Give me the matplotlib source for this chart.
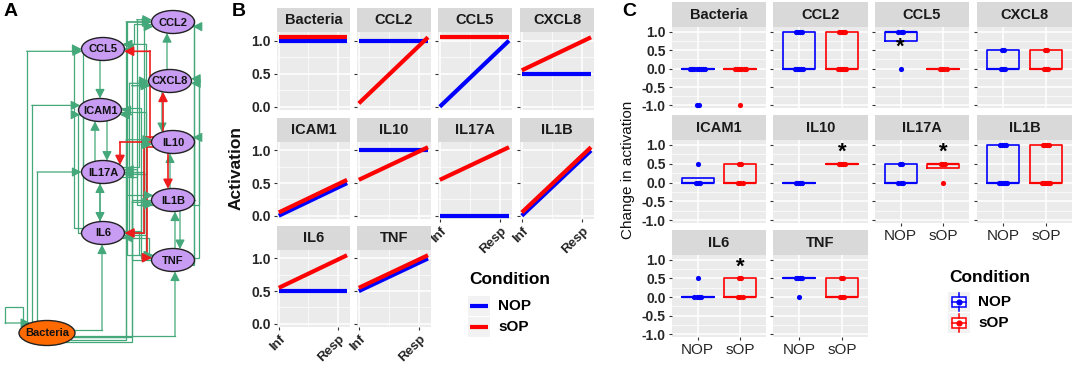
import numpy as np
import matplotlib
matplotlib.use("Agg")
import matplotlib.pyplot as plt
from matplotlib.patches import Ellipse, Rectangle

# ---------------- data ----------------
# panel A: network
nodes = ["CCL2", "CCL5", "CXCL8", "ICAM1", "IL10", "IL17A", "IL1B", "IL6", "TNF", "Bacteria"]
green_edges = [
    ("Bacteria", "CCL2"), ("Bacteria", "CCL5"), ("Bacteria", "CXCL8"), ("Bacteria", "ICAM1"),
    ("Bacteria", "IL10"), ("Bacteria", "IL17A"), ("Bacteria", "IL1B"), ("Bacteria", "IL6"),
    ("Bacteria", "TNF"),
    ("TNF", "CCL2"), ("TNF", "CCL5"), ("TNF", "CXCL8"), ("TNF", "ICAM1"), ("TNF", "IL10"),
    ("TNF", "IL1B"), ("TNF", "IL6"), ("TNF", "IL17A"),
    ("IL1B", "CCL2"), ("IL1B", "CCL5"), ("IL1B", "CXCL8"), ("IL1B", "ICAM1"), ("IL1B", "IL10"),
    ("IL1B", "IL6"), ("IL1B", "TNF"), ("IL1B", "IL17A"),
    ("IL6", "IL17A"), ("IL6", "IL10"), ("IL6", "CCL2"), ("IL6", "IL1B"), ("IL6", "TNF"),
    ("IL6", "CCL5"), ("IL6", "CXCL8"), ("IL6", "ICAM1"),
    ("IL17A", "IL6"), ("IL17A", "CCL2"), ("IL17A", "CXCL8"), ("IL17A", "ICAM1"),
    ("IL17A", "IL1B"), ("IL17A", "TNF"), ("IL17A", "CCL5"),
    ("CCL5", "CCL2"), ("CCL5", "ICAM1"), ("CCL5", "CXCL8"), ("CCL2", "CCL5"),
    ("CXCL8", "IL10"), ("CXCL8", "CCL2"), ("ICAM1", "IL10"), ("ICAM1", "IL17A"),
    ("ICAM1", "TNF"), ("ICAM1", "IL6"),
]
red_edges = [("IL10", "CXCL8"), ("IL10", "CCL5"), ("IL10", "IL17A"), ("IL10", "IL1B"),
             ("IL10", "TNF"), ("IL10", "IL6")]

# panel B: activation at Inf / Resp
facets = ["Bacteria", "CCL2", "CCL5", "CXCL8", "ICAM1", "IL10", "IL17A", "IL1B", "IL6", "TNF"]
time_labels = ["Inf", "Resp"]
time_pos = [0.0, 1.15]
nop_inf = [1.0, 1.0, 0.0, 0.5, 0.0, 1.0, 0.0, 0.0, 0.5, 0.5]
nop_resp = [1.0, 1.0, 1.0, 0.5, 0.5, 1.0, 0.0, 1.0, 0.5, 1.0]
sop_inf = [1.0, 0.0, 1.0, 0.5, 0.0, 0.5, 0.5, 0.0, 0.5, 0.5]
sop_resp = [1.0, 1.0, 1.0, 1.0, 0.5, 1.0, 1.0, 1.0, 1.0, 1.0]

# panel C: change in activation
conditions = ["NOP", "sOP"]
nop_change = [
    [0, 0, 0, 0, 0, 0, 0, 0, -1, -1],
    [0, 0, 0, 0, 0, 1, 1, 1, 1],
    [0, 1, 1, 1],
    [0, 0, 0, 0.5, 0.5],
    [0, 0, 0, 0.5],
    [0, 0, 0, 0],
    [0, 0, 0, 0.5, 0.5],
    [0, 0, 0, 0, 0, 1, 1, 1, 1],
    [0, 0, 0, 0, 0.5],
    [0, 0.5, 0.5, 0.5, 0.5],
]
sop_change = [
    [0, 0, 0, 0, 0, 0, -1],
    [0, 0, 0, 0, 0, 1, 1, 1, 1],
    [0, 0, 0, 0],
    [0, 0, 0, 0.5, 0.5],
    [0, 0, 0, 0.5, 0.5],
    [0.5, 0.5, 0.5, 0.5],
    [0, 0.5, 0.5, 0.5],
    [0, 0, 0, 0, 0, 1, 1, 1, 1],
    [0, 0, 0, 0.5, 0.5],
    [0, 0, 0, 0.5, 0.5],
]
star_facet = ["CCL5", "IL10", "IL17A", "IL6"]
star_cond = ["NOP", "sOP", "sOP", "sOP"]
star_y = [0.57, 0.8, 0.8, 0.8]

# ---------------- style ----------------
W, H = 1074, 367
BLUE, RED = "#0000ff", "#ff0000"
GREEN, RED_EDGE = "#45a87a", "#ee1c1c"
PANEL_BG, STRIP_BG = "#ebebeb", "#d9d9d9"
plt.rcParams["font.family"] = ["Liberation Sans", "DejaVu Sans"]

fig = plt.figure(figsize=(W / 100, H / 100), dpi=100)


def px_axes(x0, y0, x1, y1, **kw):
    return fig.add_axes([x0 / W, 1 - y1 / H, (x1 - x0) / W, (y1 - y0) / H], **kw)


def style_panel(ax):
    ax.set_facecolor(PANEL_BG)
    for s in ax.spines.values():
        s.set_visible(False)
    ax.grid(True, which="major", color="white", lw=1.1)
    ax.grid(True, which="minor", color="white", lw=0.5)
    ax.set_axisbelow(True)
    ax.tick_params(which="both", length=0, pad=2)
    ax.tick_params(which="major", length=2.5, color="#333333", width=0.8)


def strip(x0, y0, x1, y1, label):
    s = px_axes(x0, y0, x1, y1)
    s.set_facecolor(STRIP_BG)
    s.set_xticks([])
    s.set_yticks([])
    for sp in s.spines.values():
        sp.set_visible(False)
    s.text(0.5, 0.48, label, ha="center", va="center", fontsize=10.5,
           fontweight="bold", color="#1a1a1a", transform=s.transAxes)


# overlay for panel A, panel letters and legends (pixel coordinates)
ov = fig.add_axes([0, 0, 1, 1], zorder=5)
ov.set_xlim(0, W)
ov.set_ylim(H, 0)
ov.axis("off")

# ---------------- panel A ----------------
pos = {"CCL2": (173, 22), "CCL5": (103, 49), "CXCL8": (170, 81), "ICAM1": (100, 110),
       "IL10": (173, 142), "IL17A": (103, 172), "IL1B": (173, 200), "IL6": (103, 233),
       "TNF": (173, 260), "Bacteria": (47, 333)}
semi = {n: (21.5, 11.5) for n in nodes}
semi["Bacteria"] = (28, 12.5)
red_lanes = [163, 150, 120, 168, 147, 144]


def bx(n, dy, side):
    cx, cy = pos[n]
    a, b = semi[n]
    dy = np.clip(dy, -0.9 * b, 0.9 * b)
    return cx + side * a * np.sqrt(1 - (dy / b) ** 2), cy + dy


def by(n, dx, side):
    cx, cy = pos[n]
    a, b = semi[n]
    dx = np.clip(dx, -0.9 * a, 0.9 * a)
    return cx + dx, cy + side * b * np.sqrt(1 - (dx / a) ** 2)


def route(s, t, k, lane=None):
    sx, sy = pos[s]
    tx, ty = pos[t]
    dy1 = ((k % 5) - 2) * 2.3
    dy2 = (((k + 2) % 5) - 2) * 2.3
    if s == "Bacteria":
        if t in ("IL6", "TNF"):
            ex, ey = bx(s, -3 + 6 * (t == "TNF"), 1)
            ln = tx - 4 + (k % 3) * 3
            return [(ex, ey), (ln, ey), (ln, by(t, ln - tx, 1)[1])]
        if tx > 140:
            ex, ey = bx(s, 4 + (k % 3) * 2.5, 1)
            ln = 126 + (k % 4) * 3
            ex2, ey2 = bx(t, dy2, -1)
            return [(ex, ey), (ln, ey), (ln, ey2), (ex2, ey2)]
        ln = 24 + (k % 8) * 2.6
        ex, ey = by(s, ln - sx, -1)
        ex2, ey2 = bx(t, dy2, -1)
        return [(ex, ey), (ln, ey2), (ex2, ey2)]
    left_s, left_t = sx < 140, tx < 140
    adjacent = abs(sy - ty) < 70
    if lane is None:
        if left_s == left_t and adjacent:
            lane = sx - 8 + (k % 4) * 5
        elif left_s and left_t:
            lane = 74 + (k % 5) * 2.2
        elif not left_s and not left_t:
            lane = 191 + (k % 4) * 2.6 if k % 2 else 136 + (k % 5) * 3
        else:
            lane = 127 + (k % 10) * 2.4
    in_s = abs(lane - sx) < semi[s][0] * 0.8
    in_t = abs(lane - tx) < semi[t][0] * 0.8
    down = ty > sy
    if in_s:
        p0 = by(s, lane - sx, 1 if down else -1)
    else:
        p0 = bx(s, dy1, 1 if lane > sx else -1)
    if in_t:
        p1 = by(t, lane - tx, -1 if down else 1)
        return [p0, (lane, p0[1]), p1] if not in_s else [p0, p1]
    p1 = bx(t, dy2, 1 if lane > tx else -1)
    return [p0, (lane, p0[1]), (lane, p1[1]), p1]


def draw_edge(pts, color, lw):
    xs, ys = zip(*pts)
    ov.plot(xs[:-1], ys[:-1], color=color, lw=lw, solid_joinstyle="miter", zorder=2)
    ov.annotate("", xy=pts[-1], xytext=pts[-2],
                arrowprops=dict(arrowstyle="-|>,head_length=0.55,head_width=0.28",
                                color=color, lw=lw, shrinkA=0, shrinkB=0), zorder=3)


for k, (s, t) in enumerate(green_edges):
    draw_edge(route(s, t, k), GREEN, 0.9)
for k, (s, t) in enumerate(red_edges):
    draw_edge(route(s, t, k, lane=red_lanes[k]), RED_EDGE, 1.2)

# Bacteria self loop
bxl, byl = pos["Bacteria"]
loop = [(bxl - 24, byl - 8), (bxl - 24, byl - 26), (bxl - 42, byl - 26), (bxl - 42, byl - 10),
        bx("Bacteria", -10, -1)]
draw_edge(loop, GREEN, 0.9)

for n in nodes:
    a, b = semi[n]
    fc = "#ff6a00" if n == "Bacteria" else "#c79cf2"
    ov.add_patch(Ellipse(pos[n], 2 * a, 2 * b, facecolor=fc, edgecolor="#222222", lw=1.0, zorder=4))
    ov.text(pos[n][0], pos[n][1] + 0.5, n, ha="center", va="center", fontsize=8,
            fontweight="bold", color="#111111", zorder=5)

# ---------------- panel B ----------------
cols_B = [(277, 350), (357, 431), (438, 512), (520, 594)]
rows_B = [(8, 32, 110), (118, 142, 219), (226, 250, 327)]
sop_offset = 0.05
for i, name in enumerate(facets):
    r, c = divmod(i, 4)
    x0, x1 = cols_B[c]
    st, pt, pb = rows_B[r]
    strip(x0, st, x1, pt, name)
    ax = px_axes(x0, pt, x1, pb)
    style_panel(ax)
    ax.plot(time_pos, [nop_inf[i], nop_resp[i]], color=BLUE, lw=3, solid_capstyle="butt")
    ax.plot(time_pos, [sop_inf[i] + sop_offset, sop_resp[i] + sop_offset], color=RED, lw=3,
            solid_capstyle="butt")
    ax.set_xlim(-0.03, 1.2)
    ax.set_ylim(-0.05, 1.13)
    ax.set_yticks([0, 0.5, 1.0])
    ax.set_yticks([0.25, 0.75], minor=True)
    ax.set_xticks([0, 1])
    ax.set_xticks([0.5], minor=True)
    if c == 0:
        ax.set_yticklabels(["0.0", "0.5", "1.0"], fontsize=10, fontweight="bold", color="#262626")
    else:
        ax.set_yticklabels([])
    last_row = (r == 2) or (r == 1 and c >= 2)
    if last_row:
        ax.set_xticklabels(time_labels, rotation=45, ha="right", rotation_mode="anchor",
                           fontsize=9.5, fontweight="bold", color="#262626")
    else:
        ax.set_xticklabels([])
        ax.tick_params(axis="x", which="major", length=0)

ov.text(236, 168, "Activation", rotation=90, ha="center", va="center", fontsize=12.5,
        fontweight="bold", color="#111111")
ov.text(232, 12, "B", fontsize=14, fontweight="bold", ha="left", va="center")
ov.text(4, 12, "A", fontsize=14, fontweight="bold", ha="left", va="center")
ov.text(622, 12, "C", fontsize=14, fontweight="bold", ha="left", va="center")

# legend B
ov.text(469, 279, "Condition", fontsize=12.5, fontweight="bold", ha="left", va="center")
for j, (cond, col) in enumerate(zip(conditions, [BLUE, RED])):
    yy = 306 + j * 21
    ov.add_patch(Rectangle((468, yy - 10), 22, 20, facecolor="#f2f2f2", edgecolor="none"))
    ov.plot([470, 488], [yy, yy], color=col, lw=3, solid_capstyle="butt")
    ov.text(498, yy, cond, fontsize=11, fontweight="bold", ha="left", va="center")

# ---------------- panel C ----------------
cols_C = [(672, 766), (773, 868), (875, 969), (977, 1072)]
rows_C = [(2, 27, 108), (115, 140, 223), (230, 255, 337)]
for i, name in enumerate(facets):
    r, c = divmod(i, 4)
    x0, x1 = cols_C[c]
    st, pt, pb = rows_C[r]
    strip(x0, st, x1, pt, name)
    ax = px_axes(x0, pt, x1, pb)
    style_panel(ax)
    for j, (vals, col) in enumerate(zip([nop_change[i], sop_change[i]], [BLUE, RED])):
        xp = j + 1
        ax.boxplot([vals], positions=[xp], widths=0.75, showfliers=False, showcaps=False,
                   patch_artist=False, manage_ticks=False,
                   boxprops=dict(color=col, lw=1.2), whiskerprops=dict(color=col, lw=1.2),
                   medianprops=dict(color=col, lw=1.6))
        uniq, counts = np.unique(vals, return_counts=True)
        for u, n in zip(uniq, counts):
            offs = (np.arange(n) - (n - 1) / 2) * 0.05
            ax.scatter(xp + offs, np.full(n, u), s=14, color=col, lw=0, zorder=3)
    for f, cnd, yv in zip(star_facet, star_cond, star_y):
        if f == name:
            ax.text(conditions.index(cnd) + 1, yv, "*", ha="center", va="center",
                    fontsize=16, fontweight="bold", color="black")
    ax.set_xlim(0.4, 2.6)
    ax.set_ylim(-1.07, 1.13)
    ax.set_yticks([-1, -0.5, 0, 0.5, 1])
    ax.set_yticks([-0.75, -0.25, 0.25, 0.75], minor=True)
    ax.set_xticks([1, 2])
    if c == 0:
        ax.set_yticklabels(["-1.0", "-0.5", "0.0", "0.5", "1.0"], fontsize=10,
                           fontweight="bold", color="#262626")
    else:
        ax.set_yticklabels([])
    last_row = (r == 2) or (r == 1 and c >= 2)
    if last_row:
        ax.set_xticklabels(conditions, fontsize=11, color="#262626")
    else:
        ax.set_xticklabels([])
        ax.tick_params(axis="x", which="major", length=0)

ov.text(628, 170, "Change in activation", rotation=90, ha="center", va="center",
        fontsize=11, color="#111111")

# legend C
ov.text(949, 277, "Condition", fontsize=12.5, fontweight="bold", ha="left", va="center")
for j, (cond, col) in enumerate(zip(conditions, [BLUE, RED])):
    yy = 302 + j * 21
    ov.add_patch(Rectangle((948, yy - 10), 22, 20, facecolor="#f2f2f2", edgecolor="none"))
    ov.add_patch(Rectangle((952, yy - 5), 14, 10, facecolor="white", edgecolor=col, lw=1.1))
    ov.plot([959, 959], [yy - 9, yy - 5], color=col, lw=1.1)
    ov.plot([959, 959], [yy + 5, yy + 9], color=col, lw=1.1)
    ov.plot([952, 966], [yy, yy], color=col, lw=1.1)
    ov.scatter([959], [yy], s=12, color=col, zorder=6)
    ov.text(978, yy, cond, fontsize=11, fontweight="bold", ha="left", va="center")

fig.savefig("out.png", dpi=100)
